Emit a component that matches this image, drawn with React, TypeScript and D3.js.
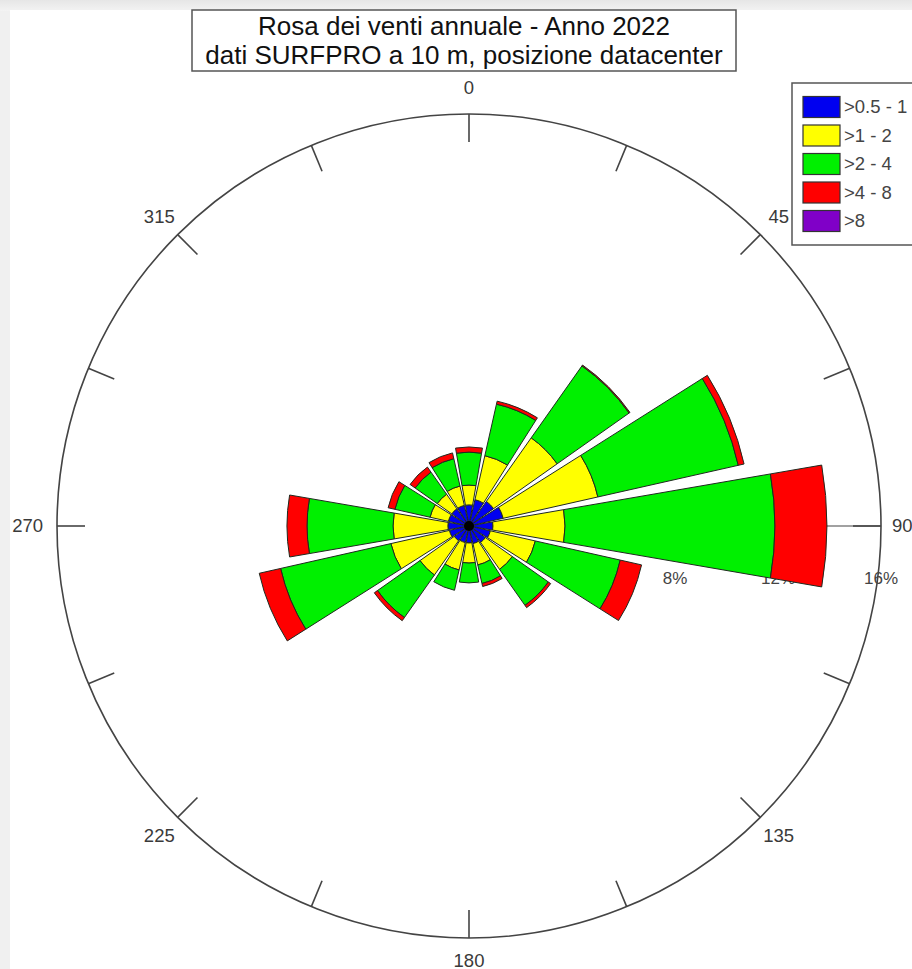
import React from 'react';
import * as d3 from 'd3';

// directions (degrees from north, clockwise)
const directions = [0, 22.5, 45, 67.5, 90, 112.5, 135, 157.5, 180, 202.5, 225, 247.5, 270, 292.5, 315, 337.5];

// frequency (%) per speed class and direction
const freqBlue = [0.82, 1.05, 1.17, 1.36, 0.93, 0.85, 0.78, 0.7, 0.66, 0.66, 0.7, 0.78, 0.82, 0.82, 0.82, 0.82];
const freqYellow = [0.77, 1.75, 3.02, 3.77, 2.8, 1.79, 1.28, 0.85, 0.78, 1.09, 1.63, 2.33, 2.13, 0.73, 0.69, 0.77];
const freqGreen = [1.28, 2.05, 3.42, 5.59, 8.15, 3.38, 1.71, 0.74, 0.77, 0.81, 2.02, 4.39, 3.34, 1.4, 1.05, 1.09];
const freqRed = [0.2, 0.12, 0.04, 0.23, 2.02, 0.85, 0.11, 0.12, 0, 0, 0.15, 0.85, 0.78, 0.27, 0.24, 0.23];
const freqPurple = [0, 0, 0, 0, 0, 0, 0, 0, 0, 0, 0, 0, 0, 0, 0, 0];

const speedClasses = ['>0.5 - 1', '>1 - 2', '>2 - 4', '>4 - 8', '>8'];
const classColors = ['#0000f0', '#ffff00', '#00f000', '#ff0000', '#8000c8'];

const angleLabels = [0, 45, 90, 135, 180, 225, 270, 315];
const radialTicks = [4, 8, 12, 16];

const W = 912;
const H = 969;
const cx = 469;
const cy = 526;
const R = 412;

export default function App() {
  const rScale = d3.scaleLinear().domain([0, 16]).range([0, R]);
  const rad = (deg: number) => (deg * Math.PI) / 180;
  const halfWidth = 9.8;

  const series = [freqBlue, freqYellow, freqGreen, freqRed, freqPurple];

  // stack the classes per direction
  const segments: { dir: number; k: number; r0: number; r1: number }[] = [];
  directions.forEach((dir, i) => {
    let acc = 0;
    series.forEach((s, k) => {
      const v = s[i];
      if (v > 0) {
        segments.push({ dir, k, r0: rScale(acc), r1: rScale(acc + v) });
      }
      acc += v;
    });
  });

  const arc = d3.arc<{ dir: number; r0: number; r1: number }>()
    .innerRadius(d => d.r0)
    .outerRadius(d => d.r1)
    .startAngle(d => rad(d.dir - halfWidth))
    .endAngle(d => rad(d.dir + halfWidth));

  const pol = (deg: number, r: number) => [cx + r * Math.sin(rad(deg)), cy - r * Math.cos(rad(deg))];

  const font = 'Liberation Sans, Arial, sans-serif';

  return (
    <svg width={W} height={H} style={{ position: 'absolute', left: 0, top: 0 }}>
      <defs>
        <linearGradient id="topShade" x1="0" x2="0" y1="0" y2="1">
          <stop offset="0%" stopColor="#e6e6e6" />
          <stop offset="100%" stopColor="#f3f3f3" />
        </linearGradient>
      </defs>
      <rect x={0} y={0} width={W} height={H} fill="#f0f0f0" />
      <rect x={0} y={0} width={W} height={11} fill="url(#topShade)" />
      <rect x={10} y={10} width={W - 10} height={H - 10} fill="#fff" />

      {/* radial axis along 90 deg */}
      <line x1={cx} y1={cy} x2={cx + R} y2={cy} stroke="#444" strokeWidth={1.2} />
      {radialTicks.map(t => (
        <text key={t} x={cx + rScale(t)} y={cy + 58} textAnchor="middle"
          fontFamily={font} fontSize={17} fill="#444">{t}%</text>
      ))}

      {/* circle and ticks */}
      <circle cx={cx} cy={cy} r={R} fill="none" stroke="#444" strokeWidth={1.6} />
      {directions.map(d => {
        const [x1, y1] = pol(d, R - 28);
        const [x2, y2] = pol(d, R);
        return <line key={d} x1={x1} y1={y1} x2={x2} y2={y2} stroke="#444" strokeWidth={1.6} />;
      })}
      {angleLabels.map(d => {
        let [x, y] = pol(d, d === 180 ? 435 : 438);
        let anchor = 'middle';
        if (d === 90) { x = cx + R + 11; anchor = 'start'; }
        if (d === 270) { x = cx - R - 14; anchor = 'end'; }
        return (
          <text key={d} x={x} y={y} dy="0.35em" textAnchor={anchor}
            fontFamily={font} fontSize={18.5} fill="#3a3a3a">{d}</text>
        );
      })}

      {/* bars */}
      <g transform={`translate(${cx},${cy})`}>
        {segments.map((s, i) => (
          <path key={i} d={arc(s) || ''} fill={classColors[s.k]} stroke="#1f2a1f" strokeWidth={1} />
        ))}
        <circle r={5} fill="#000" />
      </g>

      {/* title */}
      <rect x={192} y={10} width={544} height={61} fill="#fff" stroke="#555" strokeWidth={1.5} />
      <text x={464} y={35} textAnchor="middle" fontFamily={font} fontSize={26} fill="#111">
        Rosa dei venti annuale - Anno 2022
      </text>
      <text x={464} y={64} textAnchor="middle" fontFamily={font} fontSize={26} fill="#111">
        dati SURFPRO a 10 m, posizione datacenter
      </text>

      {/* legend */}
      <rect x={792} y={83} width={140} height={162} fill="#fff" stroke="#555" strokeWidth={1.5} />
      {speedClasses.map((c, i) => {
        const y = 107 + i * 28.5;
        return (
          <g key={c}>
            <rect x={803} y={y - 10.5} width={37} height={21} fill={classColors[i]} stroke="#333" strokeWidth={1.2} />
            <text x={844} y={y} dy="0.35em" fontFamily={font} fontSize={18.5} fill="#444">{c}</text>
          </g>
        );
      })}
    </svg>
  );
}
